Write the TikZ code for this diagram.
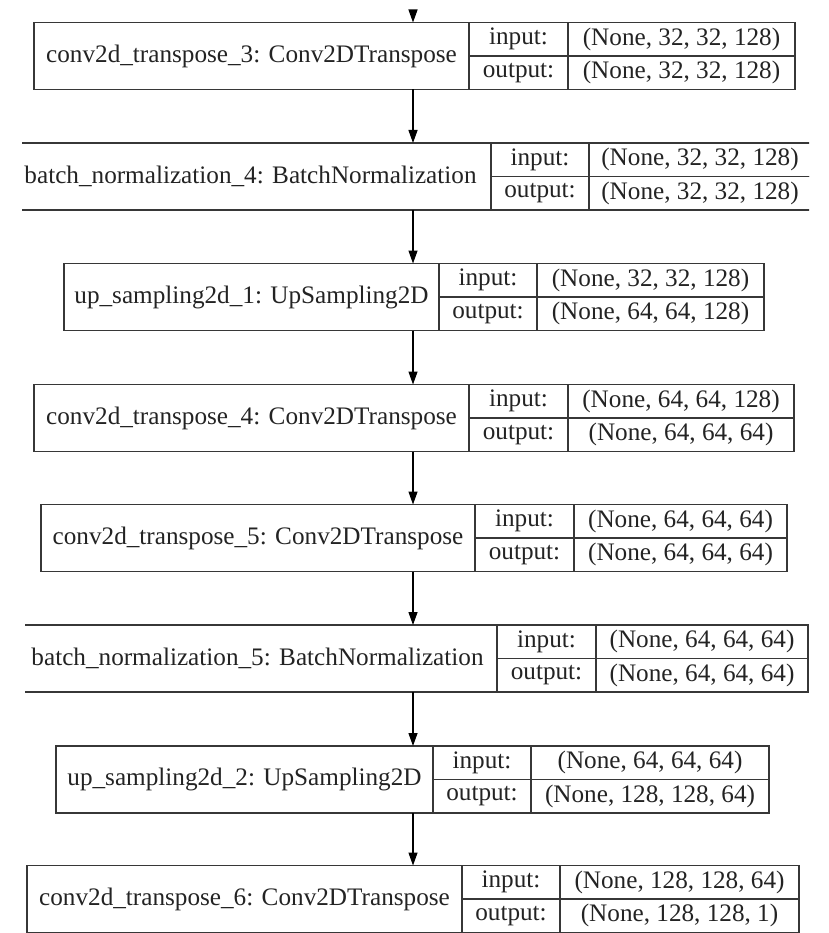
\documentclass[tikz,border=0pt]{standalone}
\usepackage{fontspec}
\setmainfont{Liberation Serif}
\usetikzlibrary{arrows.meta}
\definecolor{linegray}{RGB}{55,55,55}
\definecolor{textgray}{RGB}{35,35,35}

\begin{document}
\begin{tikzpicture}[x=1pt, y=-1pt,
  layer/.style={draw=linegray, line width=1.3pt, inner sep=0pt, outer sep=0pt, minimum height=67pt,
    text=textgray, font=\fontsize{25.2}{30}\selectfont},
  cell/.style={layer, minimum height=33.5pt, anchor=north west},
  flow/.style={draw=black, line width=1.3pt, -{Triangle[length=13pt, width=9pt]}}]
\useasboundingbox (0,0) rectangle (828,933);

% conv2d_transpose_3
\node[layer, minimum width=435pt] (ct3) at (251.5,56) {conv2d\_transpose\_3: Conv2DTranspose};
\node[cell, minimum width=99pt] (ct3in) at (ct3.north east) {input:};
\node[cell, minimum width=227pt] (ct3inv) at (ct3in.north east) {(None, 32, 32, 128)};
\node[cell, minimum width=99pt] (ct3out) at (ct3in.south west) {output:};
\node[cell, minimum width=227pt] (ct3outv) at (ct3out.north east) {(None, 32, 32, 128)};

% batch_normalization_4 (cut at both sides)
\begin{scope}
\clip (22,100) rectangle (809,240);
\node[layer, minimum width=481pt] (bn4) at (250.5,176.5) {batch\_normalization\_4: BatchNormalization};
\node[cell, minimum width=98pt] (bn4in) at (bn4.north east) {input:};
\node[cell, minimum width=222pt] (bn4inv) at (bn4in.north east) {(None, 32, 32, 128)};
\node[cell, minimum width=98pt] (bn4out) at (bn4in.south west) {output:};
\node[cell, minimum width=222pt] (bn4outv) at (bn4out.north east) {(None, 32, 32, 128)};
\end{scope}

% up_sampling2d_1
\node[layer, minimum width=375pt] (up1) at (251.5,297) {up\_sampling2d\_1: UpSampling2D};
\node[cell, minimum width=98pt] (up1in) at (up1.north east) {input:};
\node[cell, minimum width=227pt] (up1inv) at (up1in.north east) {(None, 32, 32, 128)};
\node[cell, minimum width=98pt] (up1out) at (up1in.south west) {output:};
\node[cell, minimum width=227pt] (up1outv) at (up1out.north east) {(None, 64, 64, 128)};

% conv2d_transpose_4
\node[layer, minimum width=435pt] (ct4) at (251.5,418) {conv2d\_transpose\_4: Conv2DTranspose};
\node[cell, minimum width=99pt] (ct4in) at (ct4.north east) {input:};
\node[cell, minimum width=226pt] (ct4inv) at (ct4in.north east) {(None, 64, 64, 128)};
\node[cell, minimum width=99pt] (ct4out) at (ct4in.south west) {output:};
\node[cell, minimum width=226pt] (ct4outv) at (ct4out.north east) {(None, 64, 64, 64)};

% conv2d_transpose_5
\node[layer, minimum width=434pt] (ct5) at (258,538) {conv2d\_transpose\_5: Conv2DTranspose};
\node[cell, minimum width=99pt] (ct5in) at (ct5.north east) {input:};
\node[cell, minimum width=213pt] (ct5inv) at (ct5in.north east) {(None, 64, 64, 64)};
\node[cell, minimum width=99pt] (ct5out) at (ct5in.south west) {output:};
\node[cell, minimum width=213pt] (ct5outv) at (ct5out.north east) {(None, 64, 64, 64)};

% batch_normalization_5 (cut at the left)
\begin{scope}
\clip (25,600) rectangle (828,720);
\node[layer, minimum width=479pt] (bn5) at (257.5,658.5) {batch\_normalization\_5: BatchNormalization};
\node[cell, minimum width=99pt] (bn5in) at (bn5.north east) {input:};
\node[cell, minimum width=212pt] (bn5inv) at (bn5in.north east) {(None, 64, 64, 64)};
\node[cell, minimum width=99pt] (bn5out) at (bn5in.south west) {output:};
\node[cell, minimum width=212pt] (bn5outv) at (bn5out.north east) {(None, 64, 64, 64)};
\end{scope}

% up_sampling2d_2
\node[layer, minimum width=377pt] (up2) at (244.5,779.5) {up\_sampling2d\_2: UpSampling2D};
\node[cell, minimum width=98pt] (up2in) at (up2.north east) {input:};
\node[cell, minimum width=238pt] (up2inv) at (up2in.north east) {(None, 64, 64, 64)};
\node[cell, minimum width=98pt] (up2out) at (up2in.south west) {output:};
\node[cell, minimum width=238pt] (up2outv) at (up2out.north east) {(None, 128, 128, 64)};

% conv2d_transpose_6
\node[layer, minimum width=435pt] (ct6) at (244.5,899) {conv2d\_transpose\_6: Conv2DTranspose};
\node[cell, minimum width=98pt] (ct6in) at (ct6.north east) {input:};
\node[cell, minimum width=239pt] (ct6inv) at (ct6in.north east) {(None, 128, 128, 64)};
\node[cell, minimum width=98pt] (ct6out) at (ct6in.south west) {output:};
\node[cell, minimum width=239pt] (ct6outv) at (ct6out.north east) {(None, 128, 128, 1)};

% arrows down the middle
\coordinate (spine) at (413,13);
\draw[flow] (spine) -- (spine |- ct3.north);
\draw[flow] (spine |- ct3.south) -- (spine |- bn4.north);
\draw[flow] (spine |- bn4.south) -- (spine |- up1.north);
\draw[flow] (spine |- up1.south) -- (spine |- ct4.north);
\draw[flow] (spine |- ct4.south) -- (spine |- ct5.north);
\draw[flow] (spine |- ct5.south) -- (spine |- bn5.north);
\draw[flow] (spine |- bn5.south) -- (spine |- up2.north);
\draw[flow] (spine |- up2.south) -- (spine |- ct6.north);

\end{tikzpicture}
\end{document}
